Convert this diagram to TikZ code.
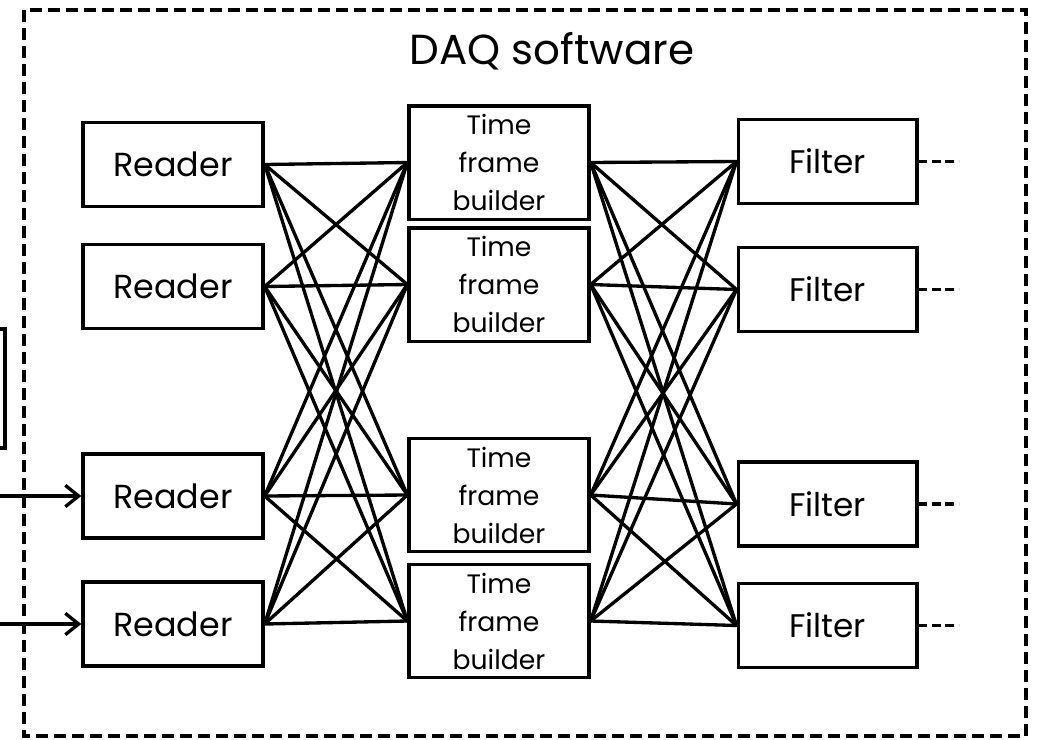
\documentclass[tikz,border=0pt]{standalone}
\usepackage{fontspec}
\setmainfont{Poppins}
\usetikzlibrary{arrows.meta}
\tikzset{
  box/.style={draw, line width=2.5pt, rectangle, inner sep=0pt, align=center},
  readerbox/.style={box, minimum width=135pt, minimum height=63pt, font=\fontsize{25pt}{28pt}\selectfont},
  tfbbox/.style={box, minimum width=135pt, minimum height=85pt, font=\fontsize{20pt}{28.5pt}\selectfont},
  filterbox/.style={box, minimum width=134pt, minimum height=63pt, font=\fontsize{24.5pt}{28pt}\selectfont},
  link/.style={line width=2.5pt, line cap=round},
  feed/.style={line width=2.5pt, -{Straight Barb[length=10pt, width=16pt, line width=2.5pt]}},
  stub/.style={line width=2.8pt, dash pattern=on 6.5pt off 3.5pt},
  frame/.style={line width=2.4pt, dash pattern=on 9pt off 4.5pt},
}
\begin{document}
\begin{tikzpicture}[x=0.75pt, y=-0.75pt]
  \useasboundingbox (0,0) rectangle (1038,739);

  % outer software boundary
  \draw[frame] (24,10) rectangle (1026,736);
  \node[font=\fontsize{31.5pt}{36pt}\selectfont] (title) at (552,51) {DAQ software};

  % external block cut by the left edge
  \draw[line width=2.5pt] (-10,329) -- (5,329) -- (5,448) -- (-10,448);
  \coordinate (edge) at (0,0);

  % readers
  \node[readerbox] (r1) at (173,164.5) {Reader};
  \node[readerbox] (r2) at (173,286.5) {Reader};
  \node[readerbox] (r3) at (173,496) {Reader};
  \node[readerbox] (r4) at (173,624) {Reader};

  % time frame builders
  \node[tfbbox] (t1) at (499,162.5) {Time\\frame\\builder};
  \node[tfbbox] (t2) at (499,284.5) {Time\\frame\\builder};
  \node[tfbbox] (t3) at (499,495) {Time\\frame\\builder};
  \node[tfbbox] (t4) at (499,621) {Time\\frame\\builder};

  % filters
  \node[filterbox] (f1) at (827.5,161.5) {Filter};
  \node[filterbox] (f2) at (827.5,289.5) {Filter};
  \node[filterbox] (f3) at (827.5,504) {Filter};
  \node[filterbox] (f4) at (827.5,625.5) {Filter};

  % full mesh: readers to builders, builders to filters
  \foreach \a in {1,2,3,4}{
    \foreach \b in {1,2,3,4}{
      \draw[link] (r\a.east) -- (t\b.west);
      \draw[link] (t\a.east) -- (f\b.west);
    }
  }

  % inputs
  \draw[feed] (r3.west -| edge) -- (r3.west);
  \draw[feed] (r4.west -| edge) -- (r4.west);

  % outputs continuing beyond the filters
  \foreach \f in {1,2,3,4}{
    \draw[stub] (f\f.east) -- ++(40,0);
  }
\end{tikzpicture}
\end{document}
